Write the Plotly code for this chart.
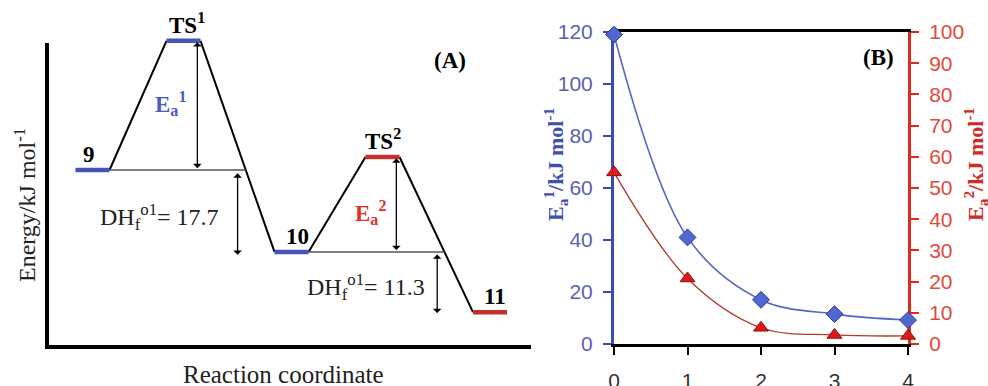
import plotly.graph_objects as go

W, H = 988, 386

# ---------------- Panel A : schematic energy profile ----------------
species = ["9", "TS<sup>1</sup>", "10", "TS<sup>2</sup>", "11"]
react_coord = [0.0, 1.0, 2.187, 3.187, 4.368]
energy = [0.0, 27.9, -17.7, 2.8, -30.7]
level_colors = ["#4654b4", "#4654b4", "#4654b4", "#c0302c", "#c0302c"]
label_xshift = [-4, 3, 6, 0, 5]
dh_labels = ["DH<sub>f</sub><sup>o1</sup>= 17.7", "DH<sub>f</sub><sup>o1</sup>= 11.3"]
ea_labels = ["E<sub>a</sub><sup>1</sup>", "E<sub>a</sub><sup>2</sup>"]
ea_colors = ["#4c5cc0", "#e0302a"]

# ---------------- Panel B : activation energies ----------------
n_values = [0, 1, 2, 3, 4]
ea1 = [119, 41, 17, 11.5, 9.2]
ea2 = [55, 21, 5.2, 2.9, 2.6]
x_ticks = [0, 1, 2, 3, 4]

SERIF = "Liberation Serif"
SANS = "Liberation Sans"

fig = go.Figure()

hw = 0.187  # half width of a level bar (reaction-coordinate units)
lefts = [r - hw for r in react_coord]
rights = [r + hw for r in react_coord]

# connectors
for i in range(len(species) - 1):
    fig.add_trace(go.Scatter(x=[rights[i], lefts[i + 1]], y=[energy[i], energy[i + 1]],
                             mode="lines", line=dict(color="black", width=2),
                             xaxis="x2", yaxis="y3", hoverinfo="skip"))

def cross_x(i, e):
    # x where connector from level i to i+1 reaches energy e
    return rights[i] + (e - energy[i]) / (energy[i + 1] - energy[i]) * (lefts[i + 1] - rights[i])

ref_pairs = [(0, 1), (2, 3)]  # (level, descending connector index)
cross = []
for lvl, con in ref_pairs:
    xc = cross_x(con, energy[lvl])
    cross.append(xc)
    fig.add_trace(go.Scatter(x=[rights[lvl], xc], y=[energy[lvl], energy[lvl]], mode="lines",
                             line=dict(color="#555555", width=1.6),
                             xaxis="x2", yaxis="y3", hoverinfo="skip"))

# levels
for i in range(len(species)):
    fig.add_trace(go.Scatter(x=[lefts[i], rights[i]], y=[energy[i], energy[i]], mode="lines",
                             line=dict(color=level_colors[i], width=4.5),
                             xaxis="x2", yaxis="y3", hoverinfo="skip"))

# ---------------- Panel B traces ----------------
fig.add_trace(go.Scatter(x=n_values, y=ea1, mode="lines+markers",
                         line=dict(color="#5466c4", width=1.6, shape="spline"),
                         marker=dict(symbol="diamond", size=13, color="#5068d0",
                                     line=dict(color="#2a3a8a", width=1)),
                         cliponaxis=False, xaxis="x", yaxis="y"))
fig.add_trace(go.Scatter(x=n_values, y=ea2, mode="lines+markers",
                         line=dict(color="#b03a2a", width=1.3, shape="spline"),
                         marker=dict(symbol="triangle-up", size=13, color="#e01818",
                                     line=dict(color="#8a1010", width=1)),
                         cliponaxis=False, xaxis="x", yaxis="y2"))

ann = []
# level labels
for i in range(len(species)):
    ann.append(dict(x=react_coord[i], y=energy[i], xref="x2", yref="y3", text="<b>%s</b>" % species[i],
                    showarrow=False, xanchor="center", yanchor="bottom", xshift=label_xshift[i], yshift=1,
                    font=dict(family=SERIF, size=23, color="black")))

def arrow(x, y0, y1):
    return dict(x=x, y=y1, ax=x, ay=y0, xref="x2", yref="y3", axref="x2", ayref="y3",
                showarrow=True, arrowhead=1, arrowside="end+start", arrowsize=1.1,
                arrowwidth=1.3, arrowcolor="black", text="", standoff=0, startstandoff=0)

# Ea arrows
ea_x = [rights[1] - 0.035, rights[3] - 0.035]
ann.append(arrow(ea_x[0], energy[1], energy[0] + 0.4))
ann.append(arrow(ea_x[1], energy[3], energy[2] + 0.4))
# DH arrows
dh_x = [cross[0] - 0.09, cross[1] - 0.08]
ann.append(arrow(dh_x[0], energy[0] - 0.4, energy[2] - 0.6))
ann.append(arrow(dh_x[1], energy[2] - 0.2, energy[4] - 0.2))

# Ea labels
ann.append(dict(x=ea_x[0], y=(energy[1] + energy[0]) / 2, xref="x2", yref="y3",
                text="<b>%s</b>" % ea_labels[0], showarrow=False, xanchor="center", yanchor="middle",
                xshift=-27, yshift=2, font=dict(family=SERIF, size=23, color=ea_colors[0])))
ann.append(dict(x=ea_x[1], y=(energy[3] + energy[2]) / 2, xref="x2", yref="y3",
                text="<b>%s</b>" % ea_labels[1], showarrow=False, xanchor="center", yanchor="middle",
                xshift=-26, yshift=-8, font=dict(family=SERIF, size=23, color=ea_colors[1])))
# DH labels
ann.append(dict(x=dh_x[0], y=(energy[0] + energy[2]) / 2, xref="x2", yref="y3",
                text=dh_labels[0], showarrow=False, xanchor="right", yanchor="middle",
                xshift=-17, yshift=-6, font=dict(family=SERIF, size=24, color="#222")))
ann.append(dict(x=dh_x[1], y=(energy[2] + energy[4]) / 2, xref="x2", yref="y3",
                text=dh_labels[1], showarrow=False, xanchor="right", yanchor="middle",
                xshift=-10, yshift=-5, font=dict(family=SERIF, size=24, color="#222")))

def px(x):
    return x / W

def py(y):
    return 1 - y / H

def paper_text(x, y, text, size, color, angle=0):
    return dict(x=px(x), y=py(y), xref="paper", yref="paper", text=text, showarrow=False,
                xanchor="center", yanchor="middle", textangle=angle,
                font=dict(family=SERIF, size=size, color=color))

ann.append(paper_text(450, 60, "<b>(A)</b>", 23, "black"))
ann.append(paper_text(25, 205, "Energy/kJ mol<sup>-1</sup>", 24, "#222", -90))
ann.append(paper_text(283, 374, "Reaction coordinate", 25, "#222"))
ann.append(paper_text(878, 58, "<b>(B)</b>", 23, "black"))
ann.append(paper_text(555, 165, "<b>E<sub>a</sub><sup>1</sup>/kJ mol<sup>-1</sup></b>", 22, "#4050b0", -90))
ann.append(paper_text(975, 165, "<b>E<sub>a</sub><sup>2</sup>/kJ mol<sup>-1</sup></b>", 22, "#d02a24", -90))

shapes = [
    dict(type="line", xref="paper", yref="paper", x0=px(47), x1=px(47), y0=py(43), y1=py(349),
         line=dict(color="black", width=4)),
    dict(type="line", xref="paper", yref="paper", x0=px(45), x1=px(531), y0=py(347), y1=py(347),
         line=dict(color="black", width=4)),
]

blue_axis = "#3a4ab8"
red_axis = "#e02a1e"

fig.update_layout(
    width=W, height=H, margin=dict(l=0, r=0, t=0, b=0, pad=0, autoexpand=False),
    paper_bgcolor="white", plot_bgcolor="white", showlegend=False,
    annotations=ann, shapes=shapes,
    xaxis=dict(domain=[614 / W, 908 / W], range=[0, 4], tickvals=x_ticks, ticks="outside",
               ticklen=8, tickwidth=2, tickcolor="black", showline=True, linecolor="black",
               linewidth=3, mirror=True, showgrid=False, zeroline=False, anchor="y",
               layer="below traces", ticklabelstandoff=8, automargin=False,
               tickfont=dict(family=SANS, size=21, color="#333")),
    yaxis=dict(domain=[1 - 344 / H, 1 - 32 / H], range=[0, 120], tick0=0, dtick=20,
               ticks="outside", ticklen=8, tickwidth=2, tickcolor=blue_axis, showline=True,
               linecolor=blue_axis, linewidth=3, showgrid=False, zeroline=False, anchor="x",
               layer="below traces", ticklabelstandoff=6, automargin=False,
               tickfont=dict(family=SANS, size=21, color="#5a62b0")),
    yaxis2=dict(overlaying="y", side="right", anchor="x", range=[0, 100], tick0=0, dtick=10,
                ticks="outside", ticklen=8, tickwidth=2, tickcolor=red_axis, showline=True,
                linecolor=red_axis, linewidth=3, showgrid=False, zeroline=False,
                layer="below traces", ticklabelstandoff=6, automargin=False,
                tickfont=dict(family=SANS, size=21, color="#e2483e")),
    xaxis2=dict(domain=[0, 530 / W], range=[-92.5 / 91, (530 - 92.5) / 91], visible=False,
                anchor="y3", automargin=False),
    yaxis3=dict(domain=[0, 1], range=[-216 / 4.63, 170 / 4.63], visible=False, anchor="x2",
                automargin=False),
)

fig.write_html("out.html", config={"displayModeBar": False},
               post_script="document.body.style.margin='0';document.body.style.overflow='hidden';")
